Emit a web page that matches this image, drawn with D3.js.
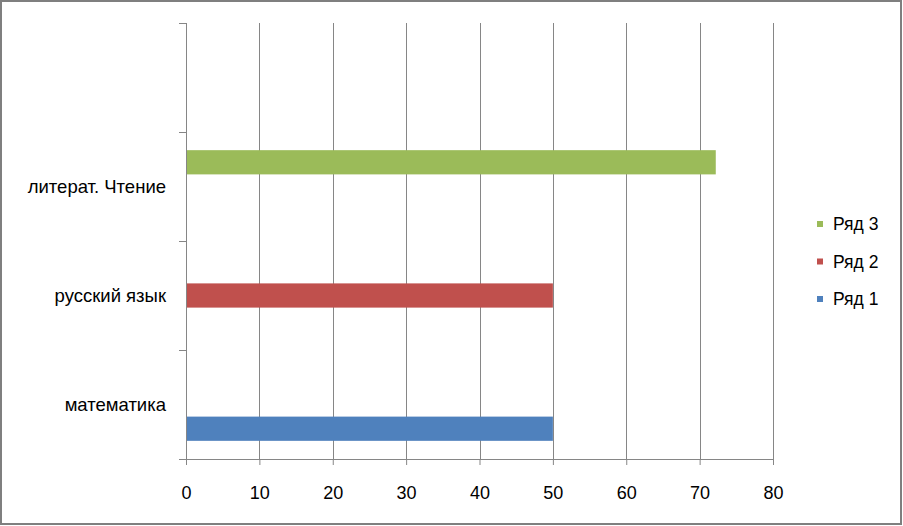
<!DOCTYPE html>
<html><head><meta charset="utf-8">
<script src="https://cdn.jsdelivr.net/npm/d3@7"></script>
<style>html,body{margin:0;padding:0;background:#fff;}svg{display:block;}</style>
</head><body>
<svg id="chart" width="903" height="526"></svg>
<script>
const categories = ["", "литерат. Чтение", "русский язык", "математика"]; // top to bottom
const seriesNames = ["Ряд 3", "Ряд 2", "Ряд 1"]; // top to bottom within a group
const seriesColors = ["#9BBB59", "#C0504D", "#4F81BD"];
const ryad1 = [null, null, null, 50];
const ryad2 = [null, null, 50, null];
const ryad3 = [null, 72.2, null, null];
const xTicks = [0, 10, 20, 30, 40, 50, 60, 70, 80];

const seriesValues = [ryad3, ryad2, ryad1];
const svg = d3.select("#chart");
const font = "'Liberation Sans', Arial, sans-serif";
const axisColor = "#868686";

svg.append("rect").attr("x", 1).attr("y", 1).attr("width", 900).attr("height", 523)
  .attr("fill", "#fff").attr("stroke", "#7f7f7f").attr("stroke-width", 2);

const x = d3.scaleLinear().domain([0, 80]).range([186, 773]);
const y = d3.scaleBand().domain(categories).range([23, 459]).padding(0);
const inner = d3.scaleBand().domain(seriesNames).range([0, y.bandwidth()]).paddingInner(0).paddingOuter(0.75);

// gridlines
svg.append("g").selectAll("line").data(xTicks.slice(1)).join("line")
  .attr("x1", d => Math.round(x(d)) + 0.5).attr("x2", d => Math.round(x(d)) + 0.5)
  .attr("y1", 23).attr("y2", 459)
  .attr("stroke", axisColor).attr("stroke-width", 1);

// bars
seriesNames.forEach((s, si) => {
  const vals = seriesValues[si];
  svg.append("g").selectAll("rect").data(categories.map((c, i) => ({c, v: vals[i]})).filter(d => d.v != null))
    .join("rect")
    .attr("x", x(0))
    .attr("y", d => y(d.c) + inner(s))
    .attr("width", d => x(d.v) - x(0))
    .attr("height", inner.bandwidth())
    .attr("fill", seriesColors[si]);
});

// x axis
const xAxis = d3.axisBottom(x).tickValues(xTicks).tickSize(6).tickPadding(0).tickFormat(d3.format("d"));
const gx = svg.append("g").attr("transform", "translate(0,459)").call(xAxis);
gx.select(".domain").attr("stroke", axisColor).attr("d", `M${x(0)},0.5H${x(80)}`);
gx.selectAll(".tick line").attr("stroke", axisColor);
gx.selectAll(".tick text").attr("fill", "#000").attr("font-family", font).attr("font-size", 18)
  .attr("y", 34).attr("dy", null).attr("dominant-baseline", "central");

// y axis (ticks at band boundaries)
const boundaries = categories.map(c => y(c)).concat([y.range()[1]]);
svg.append("line").attr("x1", x(0) + 0.5).attr("x2", x(0) + 0.5).attr("y1", 23).attr("y2", 459)
  .attr("stroke", axisColor);
svg.append("g").selectAll("line").data(boundaries).join("line")
  .attr("x1", x(0) - 7).attr("x2", x(0)).attr("y1", d => Math.round(d) + 0.5).attr("y2", d => Math.round(d) + 0.5)
  .attr("stroke", axisColor);
svg.append("g").selectAll("text").data(categories).join("text")
  .attr("x", 166).attr("y", d => y(d) + y.bandwidth() / 2)
  .attr("text-anchor", "end").attr("dominant-baseline", "central")
  .attr("font-family", font).attr("font-size", 18.5).attr("fill", "#000")
  .text(d => d);

// legend
const legend = svg.append("g");
seriesNames.forEach((s, i) => {
  const ly = 224 + i * 37.5;
  legend.append("rect").attr("x", 817).attr("y", ly - 3).attr("width", 6).attr("height", 6).attr("fill", seriesColors[i]);
  legend.append("text").attr("x", 833).attr("y", ly).attr("dominant-baseline", "central")
    .attr("font-family", font).attr("font-size", 17.5).attr("fill", "#000").text(s);
});
</script>
</body></html>
